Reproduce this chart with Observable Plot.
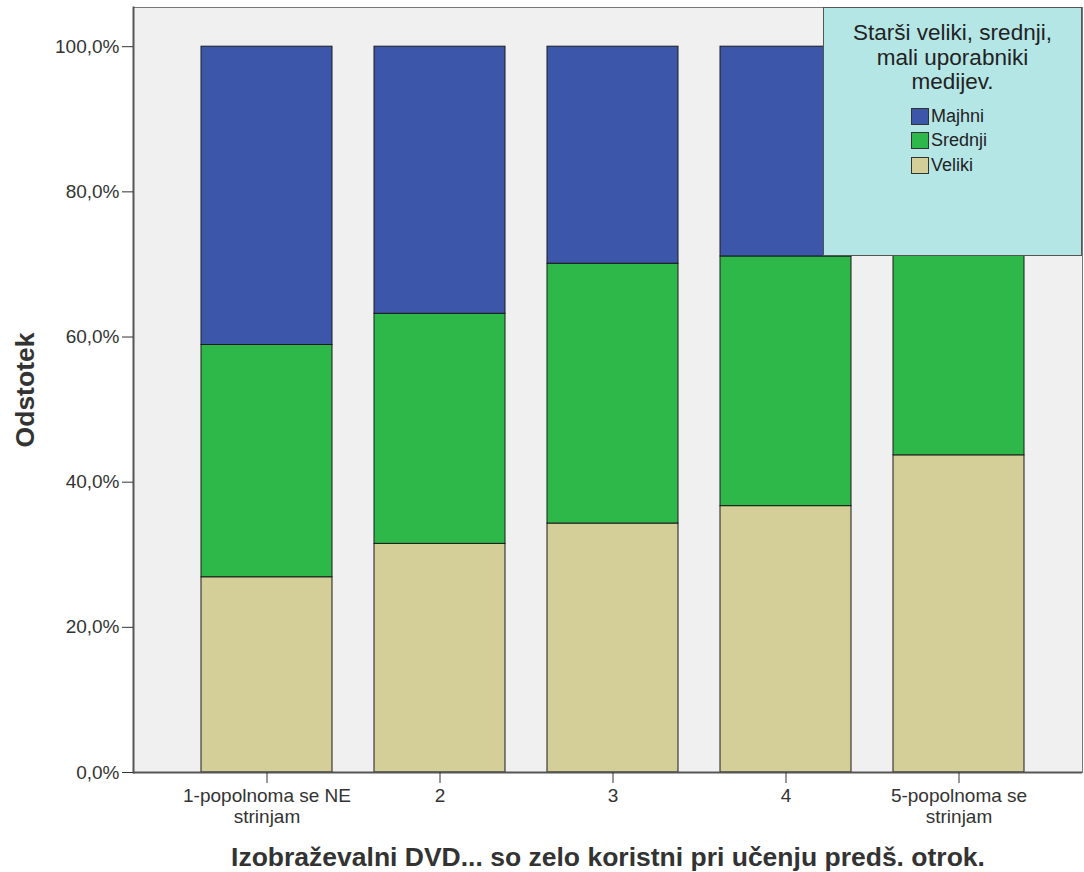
<!DOCTYPE html>
<html>
<head>
<meta charset="utf-8">
<script src="https://cdn.jsdelivr.net/npm/d3@7"></script>
<script src="https://cdn.jsdelivr.net/npm/@observablehq/plot@0.6"></script>
<style>
  html, body { margin: 0; padding: 0; background: #fff; }
  #wrap { position: relative; width: 1084px; height: 872px; font-family: "Liberation Sans", Arial, sans-serif; }
  #legend {
    position: absolute; left: 823px; top: 7px; width: 257px; height: 247px;
    background: #b5e6e6; border: 1px solid #555; color: #222;
  }
  #legend .title { text-align: center; font-size: 22.5px; line-height: 24.5px; margin-top: 13px; }
  #legend .items { position: absolute; left: 87px; top: 96px; }
  #legend .item { display: flex; align-items: center; height: 24.5px; font-size: 18px; }
  #legend .sw { width: 16px; height: 15px; border: 1.5px solid #333; margin-right: 2px; }
  svg g[aria-label="x-axis label"] text, svg g[aria-label="y-axis label"] text { font-weight: bold; }
</style>
</head>
<body>
<div id="wrap"></div>
<script>
const categories = ["1-popolnoma se NE\nstrinjam", "2", "3", "4", "5-popolnoma se\nstrinjam"];
const groups = ["Majhni", "Srednji", "Veliki"];
const colors = ["#3c57a9", "#2fb84a", "#d4ce98"];
const veliki  = [26.9, 31.5, 34.3, 36.7, 43.7];
const srednji = [32.0, 31.7, 35.8, 34.4, 30.0];
const majhni  = [41.1, 36.8, 29.9, 28.9, 26.3];
const yTicks = [0, 20, 40, 60, 80, 100];
const legendTitle = "Starši veliki, srednji,<br>mali uporabniki<br>medijev.";
const xTitle = "Izobraževalni DVD... so zelo koristni pri učenju predš. otrok.";
const yTitle = "Odstotek";

const data = [];
categories.forEach((c, i) => {
  data.push({cat: c, group: "Veliki", value: veliki[i]});
  data.push({cat: c, group: "Srednji", value: srednji[i]});
  data.push({cat: c, group: "Majhni", value: majhni[i]});
});

const chart = Plot.plot({
  width: 1084,
  height: 872,
  marginLeft: 133,
  marginRight: 2,
  marginTop: 7,
  marginBottom: 100,
  style: {fontFamily: '"Liberation Sans", Arial, sans-serif', fontSize: "19px", color: "#333", background: "transparent"},
  x: {domain: categories, range: [138, 1087], paddingInner: 0.243, paddingOuter: 0.364},
  y: {domain: [0, 105.4]},
  color: {domain: groups, range: colors},
  marks: [
    Plot.frame({fill: "#f0f0f0", stroke: "#777", strokeWidth: 1}),
    Plot.barY(data, {x: "cat", y: "value", fill: "group", order: ["Veliki", "Srednji", "Majhni"], stroke: "#1a1a1a", strokeWidth: 1}),
    Plot.frame({anchor: "left", stroke: "#555", strokeWidth: 2}),
    Plot.ruleY([0], {stroke: "#555", strokeWidth: 2}),
    Plot.axisY({ticks: yTicks, tickSize: 11, tickPadding: 3, tickFormat: d => d.toFixed(1).replace(".", ",") + "%",
      label: yTitle, labelAnchor: "center", labelArrow: "none", labelOffset: 118, fontSize: 19, color: "#333"}),
    Plot.axisX({tickSize: 11, tickPadding: 4, lineHeight: 1.08, fontSize: 19, color: "#333",
      label: xTitle, labelAnchor: "center", labelArrow: "none", labelOffset: 93})
  ]
});
document.getElementById("wrap").appendChild(chart);
chart.querySelectorAll('g[aria-label="y-axis label"] text').forEach(t => t.setAttribute("font-size", 26.5));
chart.querySelectorAll('g[aria-label="x-axis label"] text').forEach(t => t.setAttribute("font-size", 26.5));

const lg = document.createElement("div");
lg.id = "legend";
lg.innerHTML = `<div class="title">${legendTitle}</div><div class="items">` +
  groups.map((g, i) => `<div class="item"><div class="sw" style="background:${colors[i]}"></div>${g}</div>`).join("") + `</div>`;
document.getElementById("wrap").appendChild(lg);
</script>
</body>
</html>
